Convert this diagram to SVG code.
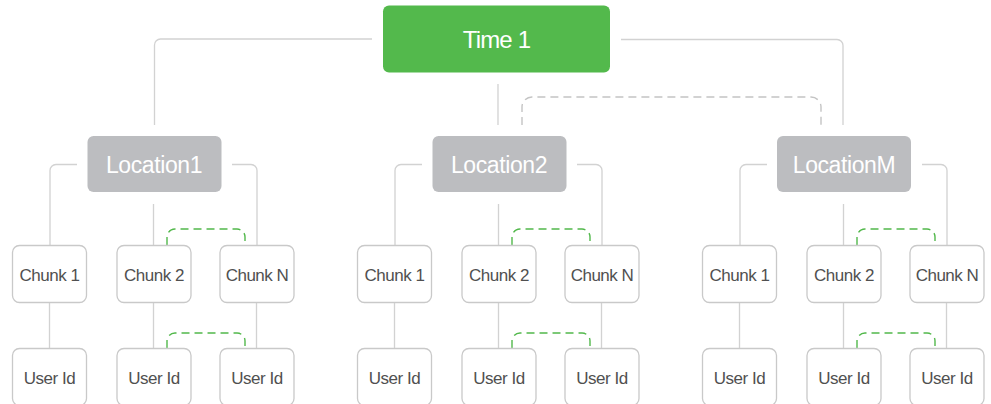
<svg xmlns="http://www.w3.org/2000/svg" width="991" height="404" viewBox="0 0 991 404">
<style>
.bg{fill:#ffffff}
.line{fill:none;stroke:#d2d2d2;stroke-width:1.3}
.gdash{fill:none;stroke:#52b84b;stroke-width:1.4;stroke-dasharray:8 5}
.ydash{fill:none;stroke:#c4c4c4;stroke-width:1.4;stroke-dasharray:8 5}
.time rect{fill:#53b94c}
.loc rect{fill:#bcbdc0}
.leaf rect{fill:#ffffff;stroke:#c9c9c9;stroke-width:1.3}
text{font-family:"Liberation Sans",Arial,sans-serif;text-anchor:middle}
.time text{fill:#ffffff;font-size:24px;letter-spacing:-0.8px}
.loc text{fill:#ffffff;font-size:23px;letter-spacing:-0.4px}
.leaf text{fill:#505050;font-size:17px;letter-spacing:-0.5px}
</style>
<rect class="bg" x="0" y="0" width="991" height="404"/>
<g id="connectors">
  <path class="line" d="M154.5,125 V45 a6,6 0 0 1 6,-6 H372"/>
  <path class="line" d="M621,39.5 H837 a6,6 0 0 1 6,6 V125"/>
  <path class="line" d="M498,84 V125"/>
  <path class="ydash" d="M522,125 V107 a10,10 0 0 1 10,-10 H811 a10,10 0 0 1 10,10 V125"/>
  <!-- group 1 -->
  <path class="line" d="M77,164.5 H56 a6,6 0 0 0 -6,6 V245"/>
  <path class="line" d="M232,164.5 H251 a6,6 0 0 1 6,6 V245"/>
  <path class="line" d="M153.5,204 V245"/>
  <path class="line" d="M49.5,302 V348 M153.5,302 V348 M256.5,302 V348"/>
  <path class="gdash" d="M167,245 V237 a8,8 0 0 1 8,-8 H237 a8,8 0 0 1 8,8 V245"/>
  <path class="gdash" d="M167,348 V341 a8,8 0 0 1 8,-8 H237 a8,8 0 0 1 8,8 V348"/>
  <!-- group 2 -->
  <path class="line" d="M422,164.5 H401 a6,6 0 0 0 -6,6 V245"/>
  <path class="line" d="M577,164.5 H596 a6,6 0 0 1 6,6 V245"/>
  <path class="line" d="M498.5,204 V245"/>
  <path class="line" d="M394.5,302 V348 M498.5,302 V348 M601.5,302 V348"/>
  <path class="gdash" d="M512,245 V237 a8,8 0 0 1 8,-8 H582 a8,8 0 0 1 8,8 V245"/>
  <path class="gdash" d="M512,348 V341 a8,8 0 0 1 8,-8 H582 a8,8 0 0 1 8,8 V348"/>
  <!-- group 3 -->
  <path class="line" d="M767,164.5 H746 a6,6 0 0 0 -6,6 V245"/>
  <path class="line" d="M922,164.5 H941 a6,6 0 0 1 6,6 V245"/>
  <path class="line" d="M843.5,204 V245"/>
  <path class="line" d="M739.5,302 V348 M843.5,302 V348 M946.5,302 V348"/>
  <path class="gdash" d="M857,245 V237 a8,8 0 0 1 8,-8 H927 a8,8 0 0 1 8,8 V245"/>
  <path class="gdash" d="M857,348 V341 a8,8 0 0 1 8,-8 H927 a8,8 0 0 1 8,8 V348"/>
</g>
<g id="time1" class="time"><rect x="383" y="5.5" width="227" height="67" rx="6"/><text x="496.5" y="48.3">Time 1</text></g>
<g id="location1" class="loc"><rect x="87.5" y="136" width="134" height="56" rx="6"/><text x="154" y="173.3">Location1</text></g>
<g id="location2" class="loc"><rect x="432.5" y="136" width="134" height="56" rx="6"/><text x="499" y="173.3">Location2</text></g>
<g id="locationM" class="loc"><rect x="777" y="136" width="134" height="56" rx="6"/><text x="844" y="173.3">LocationM</text></g>
<g id="g1-chunk1" class="leaf"><rect x="12.5" y="245.5" width="74" height="57" rx="7"/><text x="49.5" y="280.7">Chunk 1</text></g>
<g id="g1-chunk2" class="leaf"><rect x="117" y="245.5" width="74" height="57" rx="7"/><text x="154" y="280.7">Chunk 2</text></g>
<g id="g1-chunkN" class="leaf"><rect x="220" y="245.5" width="74" height="57" rx="7"/><text x="257" y="280.7">Chunk N</text></g>
<g id="g1-user1" class="leaf"><rect x="12.5" y="348.5" width="74" height="57" rx="7"/><text x="49.5" y="383.7">User Id</text></g>
<g id="g1-user2" class="leaf"><rect x="117" y="348.5" width="74" height="57" rx="7"/><text x="154" y="383.7">User Id</text></g>
<g id="g1-userN" class="leaf"><rect x="220" y="348.5" width="74" height="57" rx="7"/><text x="257" y="383.7">User Id</text></g>
<g id="g2-chunk1" class="leaf"><rect x="357.5" y="245.5" width="74" height="57" rx="7"/><text x="394.5" y="280.7">Chunk 1</text></g>
<g id="g2-chunk2" class="leaf"><rect x="462" y="245.5" width="74" height="57" rx="7"/><text x="499" y="280.7">Chunk 2</text></g>
<g id="g2-chunkN" class="leaf"><rect x="565" y="245.5" width="74" height="57" rx="7"/><text x="602" y="280.7">Chunk N</text></g>
<g id="g2-user1" class="leaf"><rect x="357.5" y="348.5" width="74" height="57" rx="7"/><text x="394.5" y="383.7">User Id</text></g>
<g id="g2-user2" class="leaf"><rect x="462" y="348.5" width="74" height="57" rx="7"/><text x="499" y="383.7">User Id</text></g>
<g id="g2-userN" class="leaf"><rect x="565" y="348.5" width="74" height="57" rx="7"/><text x="602" y="383.7">User Id</text></g>
<g id="g3-chunk1" class="leaf"><rect x="702.5" y="245.5" width="74" height="57" rx="7"/><text x="739.5" y="280.7">Chunk 1</text></g>
<g id="g3-chunk2" class="leaf"><rect x="807" y="245.5" width="74" height="57" rx="7"/><text x="844" y="280.7">Chunk 2</text></g>
<g id="g3-chunkN" class="leaf"><rect x="910" y="245.5" width="74" height="57" rx="7"/><text x="947" y="280.7">Chunk N</text></g>
<g id="g3-user1" class="leaf"><rect x="702.5" y="348.5" width="74" height="57" rx="7"/><text x="739.5" y="383.7">User Id</text></g>
<g id="g3-user2" class="leaf"><rect x="807" y="348.5" width="74" height="57" rx="7"/><text x="844" y="383.7">User Id</text></g>
<g id="g3-userN" class="leaf"><rect x="910" y="348.5" width="74" height="57" rx="7"/><text x="947" y="383.7">User Id</text></g>
</svg>
